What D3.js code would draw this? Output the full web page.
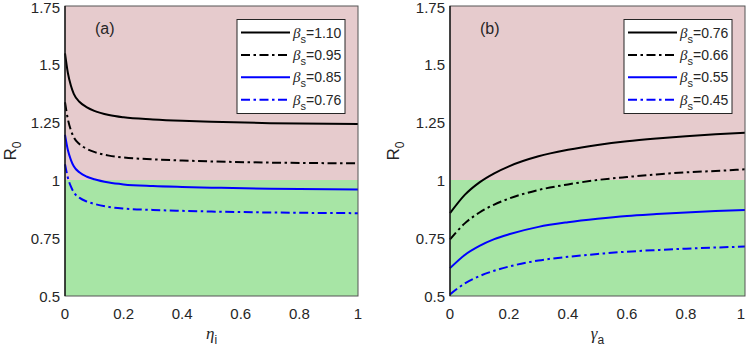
<!DOCTYPE html>
<html>
<head>
  <meta charset="utf-8">
  <title>R0 panels</title>
  <script src="https://d3js.org/d3.v7.min.js"></script>
  <style>
    body { margin: 0; background: #fff; }
    text { font-family: "Liberation Sans", Arial, sans-serif; fill: #262626; }
  </style>
</head>
<body>
<script type="text/javascript">
  // panel (a): R0 against eta_i
  var etaVals = [0, 0.01, 0.02, 0.03, 0.05, 0.075, 0.1, 0.15, 0.2, 0.3, 0.4, 0.5, 0.7, 1];
  var a110 = [1.546, 1.460, 1.407, 1.371, 1.336, 1.313, 1.298, 1.280, 1.270, 1.261, 1.255, 1.251, 1.245, 1.241];
  var a095 = [1.335, 1.261, 1.215, 1.184, 1.154, 1.134, 1.121, 1.105, 1.097, 1.089, 1.084, 1.080, 1.075, 1.072];
  var a085 = [1.195, 1.128, 1.087, 1.059, 1.032, 1.014, 1.003, 0.989, 0.981, 0.974, 0.970, 0.967, 0.962, 0.959];
  var a076 = [1.068, 1.009, 0.972, 0.947, 0.923, 0.907, 0.897, 0.884, 0.877, 0.871, 0.867, 0.864, 0.860, 0.857];
  var aBetas = ["1.10", "0.95", "0.85", "0.76"];

  // panel (b): R0 against gamma_a
  var gammaVals = [0, 0.05, 0.1, 0.15, 0.2, 0.3, 0.4, 0.5, 0.6, 0.7, 0.8, 0.9, 1];
  var b076 = [0.857, 0.936, 0.990, 1.029, 1.059, 1.102, 1.130, 1.151, 1.167, 1.179, 1.189, 1.197, 1.204];
  var b066 = [0.744, 0.813, 0.860, 0.894, 0.920, 0.957, 0.981, 1.000, 1.013, 1.024, 1.033, 1.039, 1.046];
  var b055 = [0.620, 0.677, 0.716, 0.745, 0.766, 0.798, 0.818, 0.833, 0.845, 0.853, 0.860, 0.866, 0.871];
  var b045 = [0.507, 0.554, 0.586, 0.609, 0.627, 0.653, 0.669, 0.681, 0.691, 0.698, 0.704, 0.709, 0.713];
  var bBetas = ["0.76", "0.66", "0.55", "0.45"];

  var yTicks = [0.5, 0.75, 1, 1.25, 1.5, 1.75];
  var yTickLabels = ["0.5", "0.75", "1", "1.25", "1.5", "1.75"];
  var xTicks = [0, 0.2, 0.4, 0.6, 0.8, 1];
  var xTickLabels = ["0", "0.2", "0.4", "0.6", "0.8", "1"];

  var w = 747;
  var h = 350;
  var plotTop = 6;
  var plotBottom = 296;

  var lineColors = ["#000", "#000", "#0000ff", "#0000ff"];
  var lineDash = [null, "9,3.5,2.5,3.5", null, "9,3.5,2.5,3.5"];

  var svg = d3.select("body").append("svg")
    .attr("width", w)
    .attr("height", h);

  var panels = [
    {left: 65, right: 358, tag: "(a)", xs: etaVals, series: [a110, a095, a085, a076],
     betas: aBetas, xName: "\u03b7", xSub: "i", yLabelX: 16},
    {left: 450, right: 745, tag: "(b)", xs: gammaVals, series: [b076, b066, b055, b045],
     betas: bBetas, xName: "\u03b3", xSub: "a", yLabelX: 399}
  ];

  panels.forEach(function(p){
    var g = svg.append("g");

    var x = d3.scaleLinear().domain([0, 1]).range([p.left, p.right]);
    var y = d3.scaleLinear().domain([0.5, 1.75]).range([plotBottom, plotTop]);

    // shaded regions
    g.append("rect")
      .attr("x", x(0)).attr("y", y(1.75))
      .attr("width", x(1) - x(0)).attr("height", y(1) - y(1.75))
      .attr("fill", "#e6cbcd");
    g.append("rect")
      .attr("x", x(0)).attr("y", y(1))
      .attr("width", x(1) - x(0)).attr("height", y(0.5) - y(1))
      .attr("fill", "#a7e5a5");

    var line = d3.line()
      .x(function(d){ return x(d[0]); })
      .y(function(d){ return y(d[1]); })
      .curve(d3.curveMonotoneX);

    p.series.forEach(function(vals, i){
      var pts = p.xs.map(function(v, j){ return [v, vals[j]]; });
      g.append("path")
        .attr("d", line(pts))
        .attr("fill", "none")
        .attr("stroke", lineColors[i])
        .attr("stroke-width", 2)
        .attr("stroke-dasharray", lineDash[i]);
    });

    // frame
    g.append("rect")
      .attr("x", x(0)).attr("y", y(1.75))
      .attr("width", x(1) - x(0)).attr("height", y(0.5) - y(1.75))
      .attr("fill", "none")
      .attr("stroke", "#555")
      .attr("stroke-width", 1);
    g.append("line")
      .attr("x1", x(0)).attr("x2", x(0))
      .attr("y1", y(1.75)).attr("y2", y(0.5))
      .attr("stroke", "#000")
      .attr("stroke-width", 1.2);

    // tick labels
    g.selectAll(".ytick")
      .data(yTicks)
      .enter()
      .append("text")
      .attr("x", x(0) - 5)
      .attr("y", function(d){ return Math.max(y(d) + 5.5, 12.5); })
      .attr("text-anchor", "end")
      .attr("font-size", 15)
      .text(function(d, i){ return yTickLabels[i]; });

    g.selectAll(".xtick")
      .data(xTicks)
      .enter()
      .append("text")
      .attr("x", function(d){ return Math.min(x(d), w - 6); })
      .attr("y", 319)
      .attr("text-anchor", "middle")
      .attr("font-size", 15)
      .text(function(d, i){ return xTickLabels[i]; });

    // axis labels
    var xl = g.append("text")
      .attr("x", (x(0) + x(1)) / 2)
      .attr("y", 339)
      .attr("text-anchor", "middle");
    xl.append("tspan")
      .attr("font-family", "Liberation Serif, serif")
      .attr("font-style", "italic")
      .attr("font-size", 17)
      .text(p.xName);
    xl.append("tspan")
      .attr("font-size", 12)
      .attr("dy", 5)
      .text(p.xSub);

    var yl = g.append("text")
      .attr("transform", "translate(" + p.yLabelX + "," + y(1.125) + ") rotate(-90)")
      .attr("text-anchor", "middle");
    yl.append("tspan")
      .attr("font-size", 17)
      .text("R");
    yl.append("tspan")
      .attr("font-size", 12)
      .attr("dy", 5)
      .text("0");

    // panel tag
    g.append("text")
      .attr("x", x(0) + 30)
      .attr("y", 34)
      .attr("font-size", 16)
      .text(p.tag);

    // legend
    var lx = x(1) - 121;
    var leg = g.append("g");
    leg.append("rect")
      .attr("x", lx).attr("y", 19.5)
      .attr("width", 108).attr("height", 94)
      .attr("fill", "#fff")
      .attr("stroke", "#262626")
      .attr("stroke-width", 1);

    p.betas.forEach(function(b, i){
      var ry = 32.5 + i * 22.4;
      leg.append("line")
        .attr("x1", lx + 4).attr("x2", lx + 53)
        .attr("y1", ry).attr("y2", ry)
        .attr("stroke", lineColors[i])
        .attr("stroke-width", 2)
        .attr("stroke-dasharray", lineDash[i]);
      var t = leg.append("text")
        .attr("x", lx + 56)
        .attr("y", ry + 5);
      t.append("tspan")
        .attr("font-family", "Liberation Serif, serif")
        .attr("font-style", "italic")
        .attr("font-size", 15)
        .text("\u03b2");
      t.append("tspan")
        .attr("font-size", 11)
        .attr("dy", 5)
        .text("s");
      t.append("tspan")
        .attr("font-size", 14)
        .attr("dy", -5)
        .text("=" + b);
    });
  });
</script>
</body>
</html>
